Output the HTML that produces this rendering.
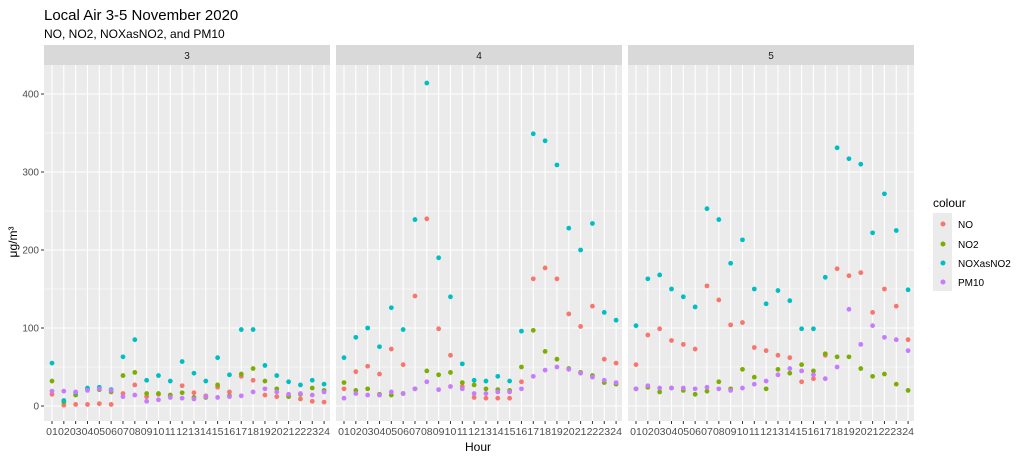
<!DOCTYPE html>
<html><head><meta charset="utf-8"><style>
body{margin:0;background:#fff}
svg{display:block;font-family:"Liberation Sans",sans-serif}
</style></head><body>
<svg id="s" width="1024" height="459" xmlns="http://www.w3.org/2000/svg">
<text x="44" y="20" font-size="15" fill="#000">Local Air 3-5 November 2020</text>
<text x="44" y="38" font-size="12" fill="#000">NO, NO2, NOXasNO2, and PM10</text>
<text transform="translate(17,242) rotate(-90)" font-size="12" text-anchor="middle" fill="#000">μg/m³</text>
<text x="478" y="451" font-size="12" text-anchor="middle" fill="#000">Hour</text>
<text x="933" y="207" font-size="12" fill="#000">colour</text>
<rect x="933" y="213" width="19" height="78" fill="#ebebeb"/>
<circle cx="943" cy="224" r="2.5" fill="#F8766D"/><text x="958" y="228" font-size="10" fill="#000">NO</text>
<circle cx="943" cy="244" r="2.5" fill="#7CAE00"/><text x="958" y="248" font-size="10" fill="#000">NO2</text>
<circle cx="943" cy="263" r="2.5" fill="#00BFC4"/><text x="958" y="267" font-size="10" fill="#000">NOXasNO2</text>
<circle cx="943" cy="282" r="2.5" fill="#C77CFF"/><text x="958" y="286" font-size="10" fill="#000">PM10</text>
</svg>
<script>
(function(){
var s=document.getElementById('s'),NS='http://www.w3.org/2000/svg';
function el(t,a,txt){var e=document.createElementNS(NS,t);for(var k in a)e.setAttribute(k,a[k]);if(txt!=null)e.textContent=txt;s.appendChild(e);return e;}
var Y=function(v){return 406-v*0.78;};
var panels=[44,336,628],W=286,pTop=65,bot=421;
var data={
3:{NO:[15,1,2,2,3,2,16,27,12,15,12,26,17,13,24,18,38,33,14,12,13,9,6,5],
NO2:[32,5,14,21,21,18,39,43,16,16,14,17,11,11,27,13,41,48,32,22,12,15,23,20],
NOX:[55,7,17,23,24,21,63,85,33,39,32,57,42,32,62,40,98,98,52,39,31,27,33,28],
PM:[19,19,18,20,22,20,12,14,6,8,11,10,9,12,11,12,13,18,22,18,15,16,14,18]},
4:{NO:[22,44,51,41,73,53,141,240,99,65,25,11,10,10,10,31,163,177,163,118,102,128,60,55],
NO2:[30,20,22,15,14,16,22,45,40,43,30,27,22,21,20,50,97,70,60,48,43,39,30,28],
NOX:[62,88,100,76,126,98,239,414,190,140,54,33,32,38,32,96,349,340,309,228,200,234,120,110],
PM:[10,16,14,14,18,16,22,31,21,25,22,16,16,18,18,22,38,46,50,47,42,37,33,30]},
5:{NO:[53,91,99,84,79,73,154,136,104,107,75,71,65,62,31,35,65,176,167,171,120,150,128,85],
NO2:[22,24,18,23,20,15,19,31,22,47,37,22,47,42,53,45,67,63,63,48,38,41,28,20],
NOX:[103,163,168,150,140,127,253,239,183,213,150,131,148,135,99,99,165,331,317,310,222,272,225,149],
PM:[22,26,23,23,23,22,24,22,20,23,28,32,40,48,45,40,35,50,124,79,103,88,85,71]}};
var cols={NO:'#F8766D',NO2:'#7CAE00',NOX:'#00BFC4',PM:'#C77CFF'};
var days=[3,4,5];
panels.forEach(function(px,i){
 el('rect',{x:px,y:45,width:W,height:20,fill:'#d9d9d9'});
 el('text',{x:px+W/2,y:59,'font-size':10,'text-anchor':'middle',fill:'#1a1a1a'},days[i]);
 el('rect',{x:px,y:pTop,width:W,height:bot-pTop,fill:'#ebebeb'});
 for(var v=50;v<=450;v+=100){var y=Y(v);if(y>pTop)el('line',{x1:px,x2:px+W,y1:y,y2:y,stroke:'#fff','stroke-width':0.5});}
 for(var v=0;v<=400;v+=100){var y=Y(v);el('line',{x1:px,x2:px+W,y1:y,y2:y,stroke:'#fff','stroke-width':1.1});}
 for(var h=0;h<24;h++){var x=px+8+h*11.83;
  el('line',{x1:x,x2:x,y1:pTop,y2:bot,stroke:'#fff','stroke-width':1.1});
  el('line',{x1:x,x2:x,y1:bot,y2:bot+3,stroke:'#333','stroke-width':1});
  el('text',{x:x,y:bot+14,'font-size':10.5,'text-anchor':'middle',fill:'#4d4d4d'},(h<9?'0':'')+(h+1));}
 var d=data[days[i]];
 ['NO','NO2','NOX','PM'].forEach(function(k){d[k].forEach(function(v,h){
  el('circle',{cx:px+8+h*11.83,cy:Y(v),r:2.4,fill:cols[k]});});});
});
for(var v=0;v<=400;v+=100){var y=Y(v);
 el('line',{x1:41,x2:44,y1:y,y2:y,stroke:'#333'});
 el('text',{x:39,y:y+3.5,'font-size':10,'text-anchor':'end',fill:'#4d4d4d'},v);}
})();
</script>
</body></html>
